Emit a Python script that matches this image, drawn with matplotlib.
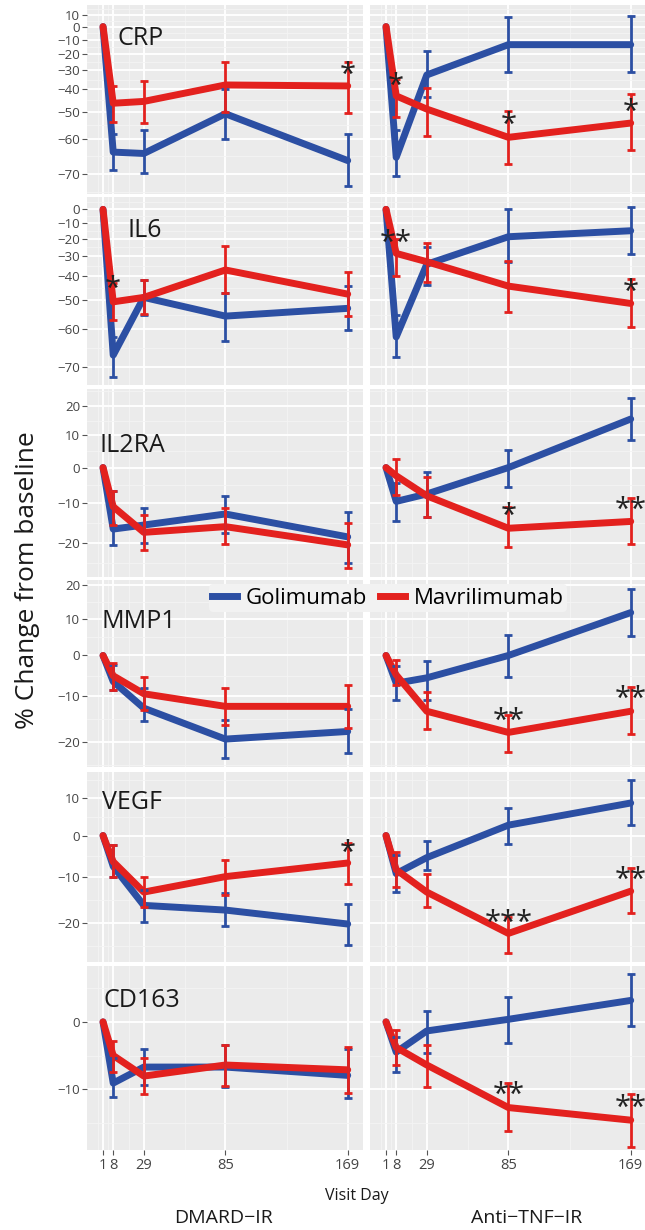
import numpy as np
import matplotlib.pyplot as plt
from matplotlib.lines import Line2D
from matplotlib.transforms import offset_copy

plt.rcParams['font.family'] = ['Open Sans', 'DejaVu Sans']

days = [1, 8, 29, 85, 169]
groups = ['DMARD−IR', 'Anti−TNF−IR']
markers = ['CRP', 'IL6', 'IL2RA', 'MMP1', 'VEGF', 'CD163']
drugs = ['Golimumab', 'Mavrilimumab']

# mean % change per visit, [DMARD-IR, Anti-TNF-IR]
gol_mean = {
    'CRP':   [[0, -64.1, -64.5, -50.9, -66.5], [0, -65.6, -32.6, -13.7, -13.7]],
    'IL6':   [[0, -67.2, -49, -55.8, -53.1], [0, -62.3, -34.3, -18.9, -15.1]],
    'IL2RA': [[0, -16.6, -15.6, -12.8, -18.5], [0, -9.5, -7.5, 0, 15.4]],
    'MMP1':  [[0, -6.5, -12.7, -19.4, -17.8], [0, -6.9, -5.6, 0, 11.7]],
    'VEGF':  [[0, -7.6, -16.4, -17.4, -20.3], [0, -9.3, -5.5, 2.7, 8.7]],
    'CD163': [[0, -9.1, -6.8, -6.8, -8.0], [0, -4.6, -1.4, 0.4, 3.4]],
}
mav_mean = {
    'CRP':   [[0, -46.5, -45.7, -37.9, -38.4], [0, -43.2, -49.0, -59.5, -54.5]],
    'IL6':   [[0, -50.7, -49, -37.1, -47.7], [0, -28.6, -33, -44.4, -51.3]],
    'IL2RA': [[0, -10.9, -17.4, -16, -20.4], [0, -2.4, -8, -16.4, -14.7]],
    'MMP1':  [[0, -5.1, -9.4, -12.3, -12.3], [0, -4.9, -13.4, -18, -13.4]],
    'VEGF':  [[0, -6.5, -13.5, -10, -6.8], [0, -8.4, -13.5, -22.2, -13.3]],
    'CD163': [[0, -5.1, -8.1, -6.5, -7.2], [0, -3.9, -6.5, -12.5, -14.2]],
}

# error bar limits for visits 8, 29, 85, 169
gol_lo = {
    'CRP':   [[-69.1, -69.8, -60, -72.7], [-70.4, -43.8, -31, -31]],
    'IL6':   [[-72.3, -55.4, -63.4, -60.3], [-67.6, -44, -33, -28.9]],
    'IL2RA': [[-20.4, -20, -17.6, -24.5], [-14.5, -13.6, -5.6, 8.5]],
    'MMP1':  [[-8.6, -15.6, -23.2, -22.3], [-10.8, -10.8, -5.3, 5.2]],
    'VEGF':  [[-10.2, -19.8, -20.7, -24.4], [-13.5, -8.5, -2.2, 2.7]],
    'CD163': [[-11, -9.4, -9.6, -11.2], [-7.5, -4.7, -3.2, -0.7]],
}
gol_hi = {
    'CRP':   [[-58.3, -57, -40, -58.4], [-57, -18.3, 8.4, 9]],
    'IL6':   [[-62.3, -41.8, -47.4, -44.4], [-55.4, -25, 0, 2]],
    'IL2RA': [[-6.8, -11.3, -8, -12.2], [-4.5, -1.2, 5.3, 22.7]],
    'MMP1':  [[-2.4, -8.1, -15.4, -12.9], [-2.8, -1.3, 5.5, 18.6]],
    'VEGF':  [[-2.5, -13, -13.8, -16], [-4.9, -1.4, 7.4, 15.3]],
    'CD163': [[-5.5, -4.1, -3.5, -4.2], [-2.4, 1.7, 4, 7.7]],
}
mav_lo = {
    'CRP':   [[-54.2, -54.6, -50, -50.4], [-52, -58.9, -67.4, -63.6]],
    'IL6':   [[-57.1, -55, -47.4, -55.8], [-40, -42.6, -54.3, -59.3]],
    'IL2RA': [[-15.6, -21.6, -20.2, -25.7], [-7.7, -13.5, -21, -20.2]],
    'MMP1':  [[-8.6, -13.2, -16.4, -17], [-7.3, -17.3, -22.1, -18.3]],
    'VEGF':  [[-10.2, -16.8, -14.2, -11.6], [-12.3, -16.8, -26, -18]],
    'CD163': [[-7.5, -10.6, -9.5, -10.5], [-6.5, -9.6, -15.6, -17.7]],
}
mav_hi = {
    'CRP':   [[-38.4, -35.7, -25, -25], [-35, -39.6, -49.6, -42.5]],
    'IL6':   [[-43, -41.8, -24.5, -37.9], [-20, -22.9, -32.5, -41.5]],
    'IL2RA': [[-6.8, -13, -11.2, -15], [2.5, -2.8, -11, -8.5]],
    'MMP1':  [[-1.8, -5.4, -8.1, -7.3], [-1.1, -9.1, -14.2, -7.8]],
    'VEGF':  [[-2.5, -10, -6.1, -2], [-4.1, -9.3, -18.8, -8.1]],
    'CD163': [[-2.9, -5.5, -3.5, -3.9], [-1.2, -3.6, -9.1, -10.7]],
}

# significance marks: marker, group, visit day, label, value
stars = [
    ('CRP', 0, 169, '*', -29), ('CRP', 1, 8, '*', -35),
    ('CRP', 1, 85, '*', -52.6), ('CRP', 1, 169, '*', -47.6),
    ('IL6', 0, 8, '*', -43), ('IL6', 1, 8, '**', -18.9),
    ('IL6', 1, 169, '*', -44),
    ('IL2RA', 1, 85, '*', -11.7), ('IL2RA', 1, 169, '**', -10),
    ('MMP1', 1, 85, '**', -14.2), ('MMP1', 1, 169, '**', -9.2),
    ('VEGF', 0, 169, '*', -2.7), ('VEGF', 1, 85, '***', -18.7),
    ('VEGF', 1, 169, '**', -9.3),
    ('CD163', 1, 85, '**', -9.9), ('CD163', 1, 169, '**', -11.7),
]

yticks = {
    'CRP': [-70, -60, -50, -40, -30, -20, -10, 0, 10],
    'IL6': [-70, -60, -50, -40, -30, -20, -10, 0],
    'IL2RA': [-20, -10, 0, 10, 20],
    'MMP1': [-20, -10, 0, 10, 20],
    'VEGF': [-20, -10, 0, 10],
    'CD163': [-10, 0],
}

# layout (pixels)
W, H = 645, 1230
rows_px = [(5, 194), (197, 385), (389, 577), (580, 767), (772, 962), (966, 1150)]
cols_px = [(87, 363), (370, 646)]
ylims = [(-74.5, 19.3), (-73.9, 9.9), (-27.6, 26.1), (-25, 21.5), (-27.7, 17.7), (-18.1, 9.1)]
label_pos = [(0.112, 0.825), (0.145, 0.824), (0.047, 0.70), (0.054, 0.78), (0.054, 0.837), (0.058, 0.815)]

BLUE = '#2C4FA3'
RED = '#E3211E'
GRID_BG = '#EBEBEB'


def fwd(y):
    return np.log(np.asarray(y, dtype=float) + 100)


def inv(t):
    return np.exp(t) - 100


def minor_between(ticks):
    t = fwd(ticks)
    ext = np.concatenate([[t[0] - (t[1] - t[0])], t, [t[-1] + (t[-1] - t[-2])]])
    mids = (ext[:-1] + ext[1:]) / 2
    return inv(mids)


fig = plt.figure(figsize=(W / 100, H / 100), dpi=100)

x_major = days
x_minor = [-2.5, 4.5, 18.5, 57, 127, 211]

for i, m in enumerate(markers):
    y0, y1 = rows_px[i]
    for j in range(2):
        x0, x1 = cols_px[j]
        ax = fig.add_axes([x0 / W, 1 - y1 / H, (x1 - x0) / W, (y1 - y0) / H])
        ax.set_facecolor(GRID_BG)
        for s in ax.spines.values():
            s.set_visible(False)
        ax.set_yscale('function', functions=(fwd, inv))
        ax.set_xticks(x_major)
        ax.set_xticks(x_minor, minor=True)
        ax.set_yticks(yticks[m])
        ax.set_yticks(minor_between(yticks[m]), minor=True)
        ax.set_ylim(*ylims[i])
        ax.set_xlim(-10, 179.5)
        ax.grid(True, which='major', color='white', lw=1.3)
        ax.grid(True, which='minor', color='#F4F4F4', lw=0.6)
        ax.set_axisbelow(True)
        ax.tick_params(which='minor', length=0)
        ax.tick_params(axis='y', which='major', length=3.5, width=0.8, color='#555555',
                       labelsize=9.5, labelcolor='#444444', pad=1.5,
                       left=(j == 0), labelleft=(j == 0))
        ax.tick_params(axis='x', which='major', length=3.5, width=0.8, color='#555555',
                       labelsize=10.5, labelcolor='#444444', pad=2,
                       bottom=(i == 5), labelbottom=(i == 5))
        ax.yaxis.set_major_formatter(plt.FuncFormatter(lambda v, p: f'{v:.0f}'.replace('-', '\u2212')))

        for mean, lo, hi, c in [(gol_mean, gol_lo, gol_hi, BLUE), (mav_mean, mav_lo, mav_hi, RED)]:
            mv = np.array(mean[m][j], dtype=float)
            lv = np.array(lo[m][j], dtype=float)
            hv = np.array(hi[m][j], dtype=float)
            ax.plot(days, mv, color=c, lw=5, solid_joinstyle='round', solid_capstyle='round', zorder=3)
            ax.errorbar(days[1:], mv[1:], yerr=[mv[1:] - lv, hv - mv[1:]], fmt='none',
                        ecolor=c, elinewidth=2.0, capsize=3, capthick=2.0, zorder=4)

        star_tr = offset_copy(ax.transData, fig=fig, x=0, y=-7, units='dots')
        for sm, sg, sd, lab, sv in stars:
            if sm == m and sg == j:
                ax.text(sd, sv, lab, ha='center', va='center', fontsize=21,
                        color='#222222', zorder=6, clip_on=False, transform=star_tr)

        if j == 0:
            lx, ly = label_pos[i]
            ax.text(lx, ly, m, transform=ax.transAxes, fontsize=18, va='center',
                    ha='left', color='#1a1a1a', zorder=6)

handles = [Line2D([], [], color=BLUE, lw=5), Line2D([], [], color=RED, lw=5)]
fig.legend(handles, drugs, loc='center', bbox_to_anchor=(388 / W, 1 - 598 / H), ncol=2,
           frameon=True, facecolor='#F2F2F2', edgecolor='none', framealpha=1,
           fontsize=16, handlelength=1.1, columnspacing=0.6, handletextpad=0.4,
           borderpad=0.15, borderaxespad=0)

fig.text(28 / W, 1 - 580 / H, '% Change from baseline', rotation=90, fontsize=19,
         ha='center', va='center', color='#1a1a1a')
fig.text(357 / W, 1 - 1196 / H, 'Visit Day', fontsize=11.5, ha='center', va='center', color='#1a1a1a')
fig.text(224 / W, 1 - 1218 / H, groups[0], fontsize=14, ha='center', va='center', color='#1a1a1a')
fig.text(527 / W, 1 - 1218 / H, groups[1], fontsize=14, ha='center', va='center', color='#1a1a1a')

fig.savefig('out.png', dpi=100)
